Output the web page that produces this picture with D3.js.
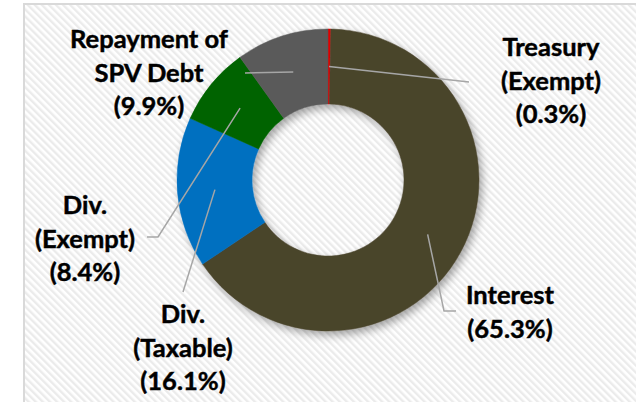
<!DOCTYPE html>
<html>
<head>
<meta charset="utf-8">
<script src="https://cdn.jsdelivr.net/npm/d3@7/dist/d3.min.js"></script>
<style>
  html, body { margin: 0; padding: 0; background: #ffffff; }
  svg { display: block; }
  .lbl { font-family: Lato, "Open Sans", sans-serif; font-weight: 700; font-size: 25.5px; fill: #000; stroke: #000; stroke-width: 0.45px; }
</style>
</head>
<body>
<svg id="chart" width="636" height="402"></svg>
<script>
// Distribution breakdown, in clockwise order from 12 o'clock
const categories = ["Treasury (Exempt)", "Interest", "Div. (Taxable)", "Div. (Exempt)", "Repayment of SPV Debt"];
const values = [0.3, 65.3, 16.1, 8.4, 9.9];
const labelLines = [
  ["Treasury", "(Exempt)"],
  ["Interest"],
  ["Div.", "(Taxable)"],
  ["Div.", "(Exempt)"],
  ["Repayment of", "SPV Debt"]
];
const colors = ["#e00000", "#4a442c", "#0070c0", "#006400", "#5a5a5a"];

// Label placement: text centre x, first baseline, and the elbow points of each leader line
const labelLayout = [
  { x: 551, y: 56,  leader: [[469, 82]] },
  { x: 510, y: 304, leader: [[456, 311], [444, 311]] },
  { x: 183, y: 323, leader: [[183, 292]] },
  { x: 85,  y: 214, leader: [[147, 237], [158, 237]] },
  { x: 149, y: 48,  leader: [[245, 73]] }
];

const W = 636, H = 402;
const cx = 328, cy = 180, rOuter = 151, rInner = 76;
const lineH = 33.5;

const svg = d3.select("#chart");
const defs = svg.append("defs");

// diagonal hatch used for the plot background
const pat = defs.append("pattern")
  .attr("id", "hatch")
  .attr("patternUnits", "userSpaceOnUse")
  .attr("width", 5).attr("height", 5)
  .attr("patternTransform", "rotate(-45)");
pat.append("rect").attr("width", 5).attr("height", 5).attr("fill", "#ffffff");
pat.append("rect").attr("width", 2.4).attr("height", 5).attr("fill", "#ebebeb");

// soft drop shadow under the ring
const f = defs.append("filter").attr("id", "shadow")
  .attr("x", "-20%").attr("y", "-20%").attr("width", "140%").attr("height", "140%");
f.append("feGaussianBlur").attr("in", "SourceAlpha").attr("stdDeviation", 4).attr("result", "blur");
f.append("feOffset").attr("in", "blur").attr("dx", 3).attr("dy", 4).attr("result", "off");
f.append("feComponentTransfer").attr("in", "off").attr("result", "shade")
  .append("feFuncA").attr("type", "linear").attr("slope", 0.35);
const m = f.append("feMerge");
m.append("feMergeNode").attr("in", "shade");
m.append("feMergeNode").attr("in", "SourceGraphic");

// chart frame
svg.append("rect")
  .attr("x", 24).attr("y", 4)
  .attr("width", W).attr("height", H)
  .attr("fill", "url(#hatch)")
  .attr("stroke", "#d9d9d9").attr("stroke-width", 2);

const pie = d3.pie().sort(null).value(d => d).startAngle(0).endAngle(2 * Math.PI);
const arcs = pie(values);
const arc = d3.arc().innerRadius(rInner).outerRadius(rOuter);

const ring = svg.append("g")
  .attr("transform", `translate(${cx},${cy})`)
  .attr("filter", "url(#shadow)");

ring.selectAll("path.slice")
  .data(arcs)
  .join("path")
  .attr("class", "slice")
  .attr("d", arc)
  .attr("fill", (d, i) => colors[i])
  .attr("stroke", (d, i) => colors[i])
  .attr("stroke-width", 0.5);

// leader lines from each label to the middle of its slice
const line = d3.line();
svg.append("g").selectAll("path.leader")
  .data(arcs)
  .join("path")
  .attr("class", "leader")
  .attr("d", (d, i) => {
    const c = arc.centroid(d);
    const pts = labelLayout[i].leader.concat([[cx + c[0], cy + c[1]]]);
    return line(pts);
  })
  .attr("fill", "none")
  .attr("stroke", "#a6a6a6")
  .attr("stroke-width", 1.5);

// category labels with percentage
const fmt = d3.format(".1f");
const labels = svg.append("g").selectAll("text.lbl")
  .data(arcs)
  .join("text")
  .attr("class", "lbl")
  .attr("text-anchor", "middle");

labels.each(function(d, i) {
  const t = d3.select(this);
  const L = labelLayout[i];
  const lines = labelLines[i].concat([`(${fmt(values[i])}%)`]);
  lines.forEach((s, k) => {
    t.append("tspan").attr("x", L.x).attr("y", L.y + k * lineH).text(s);
  });
});
</script>
</body>
</html>
